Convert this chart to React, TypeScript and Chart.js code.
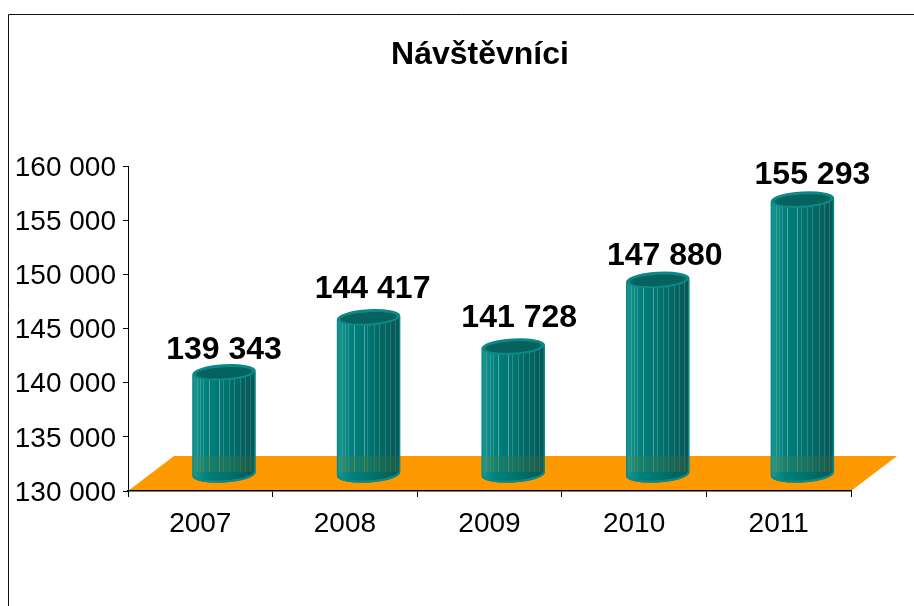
import React, { useEffect, useRef } from "react";
import { Chart, registerables } from "chart.js";

Chart.register(...registerables);

const titleText = "Návštěvníci";
const categories = ["2007", "2008", "2009", "2010", "2011"];
const visitors = [139343, 144417, 141728, 147880, 155293];
const axisMin = 130000;
const axisMax = 160000;
const axisStep = 5000;

const FONT = '"Liberation Sans", Arial, sans-serif';
const fmt = (v: number) => String(v).replace(/\B(?=(\d{3})+$)/g, " ");

// 3D projection look
const DEPTH_X = 23.7;
const DEPTH_Y = 17;
const FLOOR_SKEW = 46;
const FLOOR_H = 35;
const stripes = [0.07, 0.12, 0.17, 0.26, 0.42, 0.48, 0.58, 0.66, 0.76, 0.84, 0.92];
const labelNudgeX = [0, 4, 6, 7, 10];
const labelNudgeY = [1, -5, -5, 0, -1];

const cylinderPlugin = {
  id: "cylinders",
  afterLayout(chart: any) {
    if (chart.titleBlock) {
      chart.titleBlock.left += 50.5;
      chart.titleBlock.right += 50.5;
    }
  },
  beforeDraw(chart: any) {
    const { ctx } = chart;
    const x = chart.scales.x;
    const y = chart.scales.y;
    ctx.save();
    ctx.fillStyle = "#ff9900";
    ctx.beginPath();
    ctx.moveTo(x.left, y.bottom);
    ctx.lineTo(x.right, y.bottom);
    ctx.lineTo(x.right + FLOOR_SKEW, y.bottom - FLOOR_H);
    ctx.lineTo(x.left + FLOOR_SKEW, y.bottom - FLOOR_H);
    ctx.closePath();
    ctx.fill();
    ctx.strokeStyle = "#111";
    ctx.lineWidth = 1;
    ctx.beginPath();
    ctx.moveTo(8.5, chart.height);
    ctx.lineTo(8.5, 14.5);
    ctx.lineTo(chart.width, 14.5);
    ctx.stroke();
    ctx.restore();
  },
  afterDatasetsDraw(chart: any) {
    const { ctx } = chart;
    const baseY = chart.scales.y.bottom;
    const floorTop = baseY - FLOOR_H;
    const meta = chart.getDatasetMeta(0);
    meta.data.forEach((bar: any, i: number) => {
      const cx = bar.x + DEPTH_X;
      const top = bar.y - DEPTH_Y;
      const bottom = baseY - DEPTH_Y;
      const a = bar.width / 2;
      const b = 7.8;
      const rot = -0.06;
      const dx = a * Math.cos(rot);
      const dy = a * Math.sin(rot);
      const bodyPath = () => {
        ctx.beginPath();
        ctx.moveTo(cx - dx, top - dy);
        ctx.lineTo(cx - dx, bottom - dy);
        ctx.ellipse(cx, bottom, a, b, rot, Math.PI, 0, true);
        ctx.lineTo(cx + dx, top + dy);
        ctx.ellipse(cx, top, a, b, rot, 0, Math.PI, true);
        ctx.closePath();
      };
      ctx.save();
      const grad = ctx.createLinearGradient(cx - a, 0, cx + a, 0);
      grad.addColorStop(0, "#1c9793");
      grad.addColorStop(0.22, "#007f7b");
      grad.addColorStop(0.5, "#007571");
      grad.addColorStop(0.8, "#03625f");
      grad.addColorStop(1, "#055755");
      bodyPath();
      ctx.fillStyle = grad;
      ctx.fill();

      // stripes and floor let the background show through
      ctx.save();
      bodyPath();
      ctx.clip();
      stripes.forEach((f, k) => {
        const sx = Math.round(cx - a + f * a * 2) + 0.5;
        const alpha = k === 3 || k === 4 ? 0.34 : 0.17;
        ctx.lineWidth = 1;
        ctx.strokeStyle = `rgba(255,255,255,${alpha})`;
        ctx.beginPath();
        ctx.moveTo(sx, top);
        ctx.lineTo(sx, floorTop);
        ctx.stroke();
        ctx.strokeStyle = `rgba(255,153,0,${alpha})`;
        ctx.beginPath();
        ctx.moveTo(sx, floorTop);
        ctx.lineTo(sx, bottom - 2);
        ctx.stroke();
      });
      ctx.fillStyle = "rgba(255,153,0,0.08)";
      ctx.fillRect(cx - a, floorTop, a * 2, bottom - floorTop - 2);
      ctx.restore();

      bodyPath();
      ctx.strokeStyle = "#0b8985";
      ctx.lineWidth = 1.5;
      ctx.stroke();

      // base rim
      ctx.beginPath();
      ctx.ellipse(cx, bottom - 0.5, a - 0.5, b, rot, Math.PI, 0, true);
      ctx.strokeStyle = "#0b8985";
      ctx.lineWidth = 2.2;
      ctx.stroke();

      ctx.beginPath();
      ctx.ellipse(cx, top, a, b, rot, 0, Math.PI * 2);
      ctx.fillStyle = "#0b8985";
      ctx.fill();
      ctx.beginPath();
      ctx.ellipse(cx, top, a - 3, b - 2.2, rot, 0, Math.PI * 2);
      ctx.fillStyle = "#05625f";
      ctx.fill();

      ctx.fillStyle = "#000";
      ctx.font = `bold 32px ${FONT}`;
      ctx.textAlign = "center";
      ctx.textBaseline = "middle";
      ctx.fillText(fmt(visitors[i]), cx + labelNudgeX[i], bar.y - 41 + labelNudgeY[i]);
      ctx.restore();
    });
  },
};

export default function App() {
  const ref = useRef<HTMLCanvasElement>(null);
  useEffect(() => {
    const chart = new Chart(ref.current as HTMLCanvasElement, {
      type: "bar",
      data: {
        labels: categories,
        datasets: [
          {
            data: visitors,
            backgroundColor: "rgba(0,0,0,0)",
            borderWidth: 0,
            barPercentage: 0.43,
            categoryPercentage: 1,
          },
        ],
      },
      options: {
        responsive: false,
        animation: false,
        layout: { padding: { left: 8, right: 63, top: 0, bottom: 0 } },
        plugins: {
          legend: { display: false },
          tooltip: { enabled: false },
          title: {
            display: true,
            text: titleText,
            color: "#000",
            font: { family: FONT, size: 32, weight: "bold" },
            padding: { top: 36, bottom: 91.6 },
          },
        },
        scales: {
          x: {
            afterFit: (s: any) => { s.height = 115; },
            border: { color: "#000", width: 1.5 },
            grid: { drawOnChartArea: false, offset: true, color: "#000", tickLength: 6 },
            ticks: { color: "#000", font: { family: FONT, size: 28 }, padding: 10, maxRotation: 0 },
          },
          y: {
            min: axisMin,
            max: axisMax,
            afterFit: (s: any) => { s.width = 120; },
            border: { color: "#000", width: 1 },
            grid: { drawOnChartArea: false, color: "#000", tickLength: 5 },
            ticks: {
              stepSize: axisStep,
              color: "#000",
              font: { family: FONT, size: 28 },
              padding: 7,
              labelOffset: 2,
              callback: (v: any) => fmt(Number(v)),
            },
          },
        },
      },
      plugins: [cylinderPlugin],
    } as any);
    return () => chart.destroy();
  }, []);
  return (
    <canvas
      ref={ref}
      width={914}
      height={606}
      style={{ position: "absolute", left: 0, top: 0, width: 914, height: 606, display: "block" }}
    />
  );
}
